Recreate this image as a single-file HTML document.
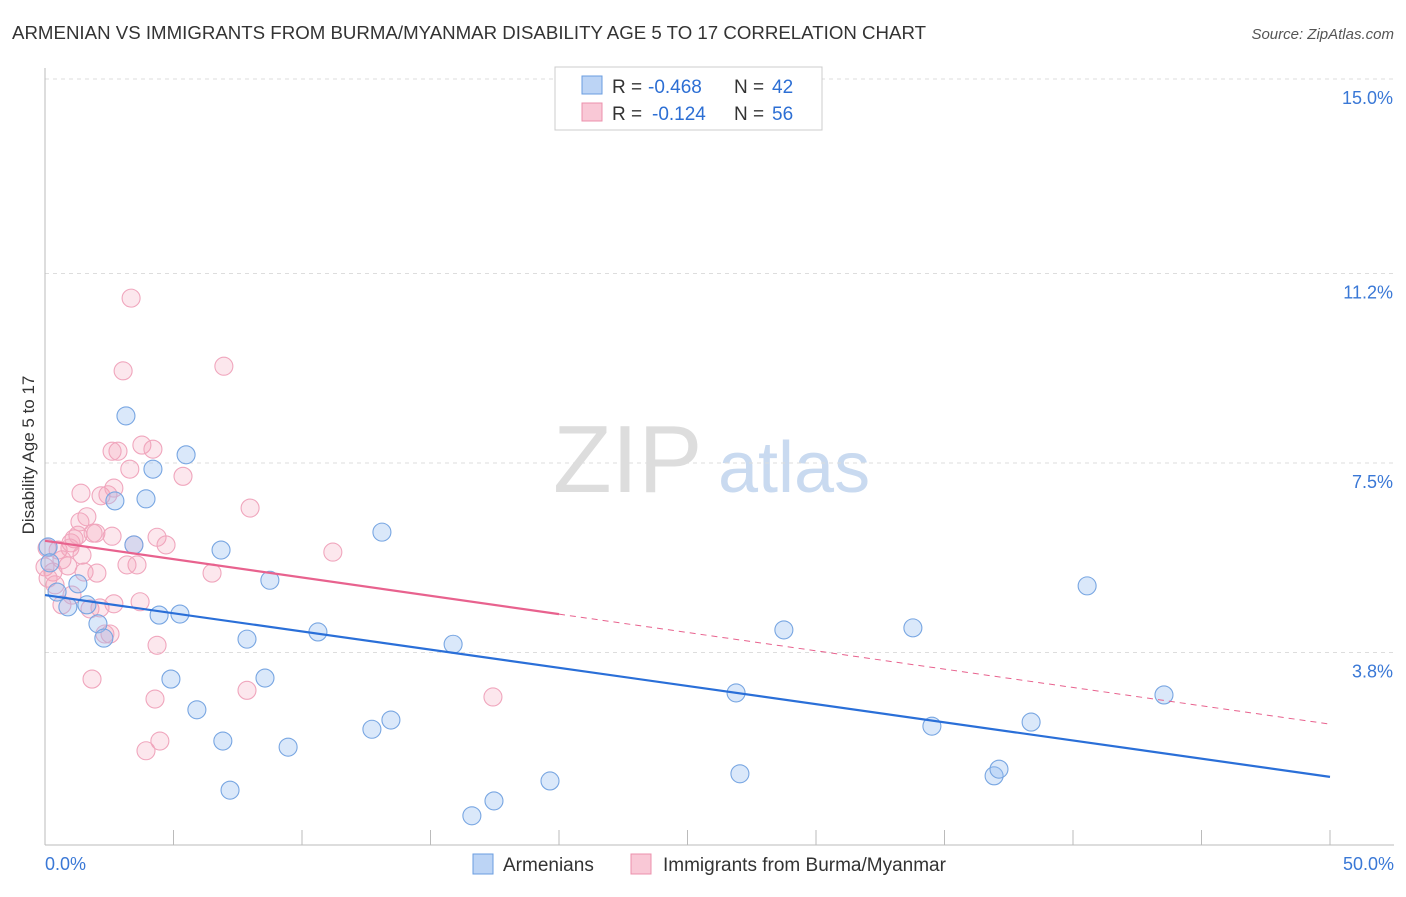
<!DOCTYPE html>
<html><head><meta charset="utf-8"><style>
body{margin:0;background:#fff;font-family:"Liberation Sans",sans-serif;}
svg text{font-family:"Liberation Sans",sans-serif;}
</style></head><body>
<svg id="c" width="1406" height="892">
<text x="12" y="39" font-size="18" fill="#333" textLength="914" lengthAdjust="spacingAndGlyphs">ARMENIAN VS IMMIGRANTS FROM BURMA/MYANMAR DISABILITY AGE 5 TO 17 CORRELATION CHART</text>
<text x="1394" y="39" font-size="15" fill="#555" font-style="italic" text-anchor="end">Source: ZipAtlas.com</text>
<g><text x="553" y="492" font-size="96" fill="#ddd" font-family="Liberation Serif">ZIP</text><text x="718" y="492" font-size="72" fill="#c9daf0">atlas</text></g>
<text transform="translate(34,455) rotate(-90)" font-size="17" fill="#333" text-anchor="middle">Disability Age 5 to 17</text>
<g id="grid"></g><g id="marks"></g>
<g>
<rect x="555" y="67" width="267" height="63" fill="#fff" stroke="#ccc"/>
<rect x="582" y="76" width="20" height="18" fill="#bcd4f5" stroke="#6a9de0"/>
<rect x="582" y="103" width="20" height="18" fill="#f9c8d6" stroke="#ec90ac"/>
<text x="612" y="93" font-size="19" fill="#333">R =</text><text x="648" y="93" font-size="19" fill="#2d6fd4">-0.468</text>
<text x="734" y="93" font-size="19" fill="#333">N =</text><text x="772" y="93" font-size="19" fill="#2d6fd4">42</text>
<text x="612" y="120" font-size="19" fill="#333">R =</text><text x="652" y="120" font-size="19" fill="#2d6fd4">-0.124</text>
<text x="734" y="120" font-size="19" fill="#333">N =</text><text x="772" y="120" font-size="19" fill="#2d6fd4">56</text>
</g>
<g>
<rect x="473" y="854" width="20" height="20" fill="#bcd4f5" stroke="#6a9de0"/>
<text x="503" y="871" font-size="19" fill="#333">Armenians</text>
<rect x="631" y="854" width="20" height="20" fill="#f9c8d6" stroke="#ec90ac"/>
<text x="663" y="871" font-size="19" fill="#333">Immigrants from Burma/Myanmar</text>
</g>
</svg>
<script>
const yTicks=[3.8,7.5,11.2,15.0];
const yTickLabels=["3.8%","7.5%","11.2%","15.0%"];
const xTickLabels=["0.0%","50.0%"];
const blueX=[0.12,0.19,0.47,0.89,1.28,1.63,2.06,2.29,2.72,3.15,3.46,3.93,4.20,4.44,4.90,5.25,5.49,5.91,6.85,6.92,7.20,7.86,8.56,8.75,9.46,10.62,12.72,13.11,13.46,15.88,16.61,17.47,19.65,26.89,27.04,28.75,33.77,34.51,36.93,37.12,38.37,40.55,43.54];
const blueY=[5.86,5.55,4.98,4.69,5.14,4.73,4.36,4.08,6.76,8.42,5.90,6.80,7.38,4.53,3.28,4.55,7.66,2.68,5.80,2.07,1.11,4.06,3.30,5.21,1.95,4.20,2.30,6.15,2.48,3.96,0.61,0.90,1.29,3.01,1.43,4.24,4.28,2.36,1.39,1.52,2.44,5.10,2.97];
const pinkX=[3.35,6.96,3.04,2.84,2.61,3.77,4.20,3.30,5.37,1.40,2.18,2.45,2.68,7.98,1.63,1.36,1.98,1.13,1.87,1.01,0.08,0.51,1.44,3.46,4.36,4.71,2.61,3.58,3.19,11.20,0.31,2.02,1.52,0,0.12,2.14,2.68,3.70,0.66,1.75,2.53,2.33,6.50,4.36,1.83,4.28,7.86,17.43,4.47,3.93,0.89,0.97,0.66,0.39,1.28,1.05];
const pinkY=[10.72,9.39,9.30,7.73,7.73,7.85,7.77,7.38,7.24,6.91,6.86,6.88,7.01,6.62,6.45,6.35,6.13,6.02,6.13,5.94,5.84,5.80,5.70,5.90,6.05,5.90,6.07,5.51,5.51,5.76,5.37,5.35,5.37,5.47,5.25,4.67,4.75,4.79,4.73,4.65,4.16,4.16,5.35,3.94,3.28,2.89,3.06,2.93,2.07,1.88,5.49,5.84,5.61,5.12,6.09,4.92];
const blueFit=[4.92,1.37];
const pinkFit=[5.98,2.40];
const X=v=>45+v/50*1285, Y=v=>847-v*51.2;
const NS="http://www.w3.org/2000/svg";
function mk(t,a,p){const e=document.createElementNS(NS,t);for(const k in a)e.setAttribute(k,a[k]);p.appendChild(e);return e;}
const g=document.getElementById('grid'), m=document.getElementById('marks');
yTicks.forEach((t,i)=>{
 const l=mk('line',{x1:45,x2:1394,y1:Y(t),y2:Y(t),stroke:'#ddd','stroke-dasharray':'4,4'},g);
 
 
 const tx=mk('text',{x:1393,y:Y(t)+25,'font-size':18,fill:'#3a78d6','text-anchor':'end'},g);tx.textContent=yTickLabels[i];
 
 
});
mk('line',{x1:45,x2:45,y1:68,y2:845,stroke:'#bbb'},g);
mk('line',{x1:45,x2:1394,y1:845,y2:845,stroke:'#bbb'},g);
for(let i=0;i<=10;i++){mk('line',{x1:X(i*5),x2:X(i*5),y1:830,y2:845,stroke:'#bbb'},g);}
[[0,'start',45],[50,'end',1394]].forEach((d,i)=>{const tx=mk('text',{x:d[2],y:870,'font-size':18,fill:'#3a78d6','text-anchor':d[1]},g);tx.textContent=xTickLabels[i];
 
 });
pinkX.forEach((v,i)=>{const c=mk('circle',{cx:X(v),cy:Y(pinkY[i]),r:9,fill:'rgba(245,160,185,0.25)',stroke:'#f0a6bd','stroke-width':1.1},m);
 
 });
blueX.forEach((v,i)=>{const c=mk('circle',{cx:X(v),cy:Y(blueY[i]),r:9,fill:'rgba(150,190,240,0.35)',stroke:'#78a6e2','stroke-width':1.1},m);
 
 });
const pf=v=>pinkFit[0]+(pinkFit[1]-pinkFit[0])*v/50;
let l=mk('line',{x1:X(0),y1:Y(pinkFit[0]),x2:X(20),y2:Y(pf(20)),stroke:'#e8628e','stroke-width':2.2},m);


l=mk('line',{x1:X(20),y1:Y(pf(20)),x2:X(50),y2:Y(pinkFit[1]),stroke:'#e8628e','stroke-width':1,'stroke-dasharray':'6,5'},m);


l=mk('line',{x1:X(0),y1:Y(blueFit[0]),x2:X(50),y2:Y(blueFit[1]),stroke:'#2a6fd8','stroke-width':2.2},m);


</script>
</body></html>
